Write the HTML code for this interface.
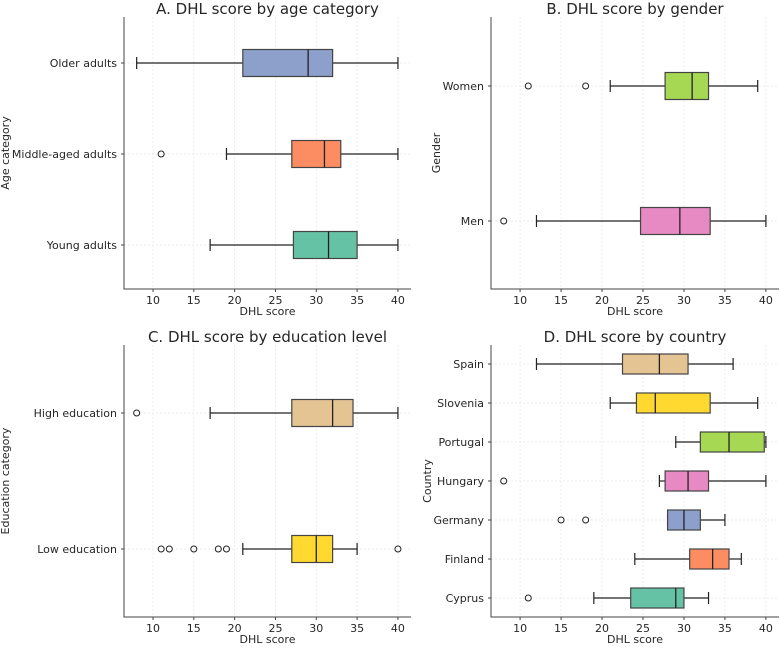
<!DOCTYPE html>
<html><head><meta charset="utf-8"><style>
body{margin:0;background:#fff;}
svg text{font-family:"DejaVu Sans","Liberation Sans",sans-serif;fill:#262626;}
</style></head><body>
<svg id="chart" width="780" height="644"></svg>
<script>
// Panel data: [low whisker, q1, median, q3, high whisker]
const ageCategories = ["Older adults","Middle-aged adults","Young adults"];
const ageStats = [[8,21,29,32,40],[19,27,31,33,40],[17,27.2,31.5,35,40]];
const ageOutliers = [[],[11],[]];
const genderCategories = ["Women","Men"];
const genderStats = [[21,27.7,31,33,39],[12,24.7,29.5,33.2,40]];
const genderOutliers = [[11,18],[8]];
const eduCategories = ["High education","Low education"];
const eduStats = [[17,27,32,34.5,40],[21,27,30,32,35]];
const eduOutliers = [[8],[11,12,15,18,19,40]];
const countryCategories = ["Spain","Slovenia","Portugal","Hungary","Germany","Finland","Cyprus"];
const countryStats = [[12,22.5,27,30.5,36],[21,24.2,26.5,33.2,39],[29,32,35.5,39.8,40],[27,27.7,30.5,33,40],[28,28,30,32,35],[24,30.7,33.5,35.5,37],[19,23.5,29,30,33]];
const countryOutliers = [[],[],[],[8],[15,18],[],[11]];
const xTicks = [10,15,20,25,30,35,40];

const svg = document.getElementById('chart');
const NS = 'http://www.w3.org/2000/svg';
function mk(tag, attrs, parent){const e=document.createElementNS(NS,tag);for(const k in attrs)e.setAttribute(k,attrs[k]);(parent||svg).appendChild(e);return e;}

function panel(cfg){
  const {L,R,T,B,title,ylabel,cats,stats,outs,colors,name,boxH,firstY,lastY} = cfg;
  const g = mk('g',{});
  
  
  const x0=6.45,x1=41.6;
  const xs = v => L + (v-x0)/(x1-x0)*(R-L);
  const n = cats.length;
  const ys = i => n===1?firstY:firstY + i*(lastY-firstY)/(n-1);
  xTicks.forEach(t=>{const l=mk('line',{x1:xs(t),x2:xs(t),y1:T,y2:B,stroke:'#e6e6e6','stroke-dasharray':'2,2','stroke-width':0.7},g);
    });
  cats.forEach((c,i)=>{const l=mk('line',{x1:L,x2:R,y1:ys(i),y2:ys(i),stroke:'#e6e6e6','stroke-dasharray':'2,2','stroke-width':0.7},g);
    });
  cats.forEach((c,i)=>{
    const s=stats[i], y=ys(i);
    const bg=mk('g',{},g);
    
    
    mk('line',{x1:xs(s[0]),x2:xs(s[1]),y1:y,y2:y,stroke:'#222','stroke-width':1.2},bg);
    mk('line',{x1:xs(s[3]),x2:xs(s[4]),y1:y,y2:y,stroke:'#222','stroke-width':1.2},bg);
    mk('line',{x1:xs(s[0]),x2:xs(s[0]),y1:y-6,y2:y+6,stroke:'#222','stroke-width':1.2},bg);
    mk('line',{x1:xs(s[4]),x2:xs(s[4]),y1:y-6,y2:y+6,stroke:'#222','stroke-width':1.2},bg);
    mk('rect',{x:xs(s[1]),y:y-boxH/2,width:xs(s[3])-xs(s[1]),height:boxH,fill:colors[i],stroke:'#444','stroke-width':1.2},bg);
    mk('line',{x1:xs(s[2]),x2:xs(s[2]),y1:y-boxH/2,y2:y+boxH/2,stroke:'#222','stroke-width':1.3},bg);
    outs[i].forEach(o=>{const c2=mk('circle',{cx:xs(o),cy:y,r:3,fill:'none',stroke:'#222','stroke-width':1},bg);
      });
    const t=mk('text',{x:L-7,y:y+4,'text-anchor':'end','font-size':11},g);t.textContent=c;
    
    mk('line',{x1:L-3,x2:L,y1:y,y2:y,stroke:'#444'},g);
  });
  const ax=mk('path',{d:`M${L},${T}V${B}H${R}`,fill:'none',stroke:'#444','stroke-width':1},g);
  
  xTicks.forEach(t=>{mk('line',{x1:xs(t),x2:xs(t),y1:B,y2:B+3,stroke:'#444'},g);
    const tx=mk('text',{x:xs(t),y:B+15,'text-anchor':'middle','font-size':11},g);tx.textContent=t;
    });
  const xl=mk('text',{x:(L+R)/2,y:B+26,'text-anchor':'middle','font-size':11},g);xl.textContent='DHL score';
  
  const yl=mk('text',{x:0,y:0,'text-anchor':'middle','font-size':11,transform:`translate(${cfg.ylx},${(T+B)/2}) rotate(-90)`},g);yl.textContent=ylabel;
  
  const tt=mk('text',{x:(L+R)/2,y:T-3,'text-anchor':'middle','font-size':15},g);tt.textContent=title;
  
}
panel({name:'panel-a-age',L:124,R:411,T:17,B:289,title:'A. DHL score by age category',ylabel:'Age category',ylx:9,
  cats:ageCategories,stats:ageStats,outs:ageOutliers,colors:['#8da0cb','#fc8d62','#66c2a5'],boxH:27,firstY:63,lastY:245});
panel({name:'panel-b-gender',L:491,R:779,T:17,B:289,title:'B. DHL score by gender',ylabel:'Gender',ylx:440,
  cats:genderCategories,stats:genderStats,outs:genderOutliers,colors:['#a6d854','#e78ac3'],boxH:27,firstY:86,lastY:221});
panel({name:'panel-c-education',L:124,R:411,T:345,B:617,title:'C. DHL score by education level',ylabel:'Education category',ylx:9,
  cats:eduCategories,stats:eduStats,outs:eduOutliers,colors:['#e5c494','#ffd92f'],boxH:27,firstY:413,lastY:549});
panel({name:'panel-d-country',L:491,R:779,T:345,B:617,title:'D. DHL score by country',ylabel:'Country',ylx:431,
  cats:countryCategories,stats:countryStats,outs:countryOutliers,colors:['#e5c494','#ffd92f','#a6d854','#e78ac3','#8da0cb','#fc8d62','#66c2a5'],boxH:20,firstY:364,lastY:598});
</script>
</body></html>
